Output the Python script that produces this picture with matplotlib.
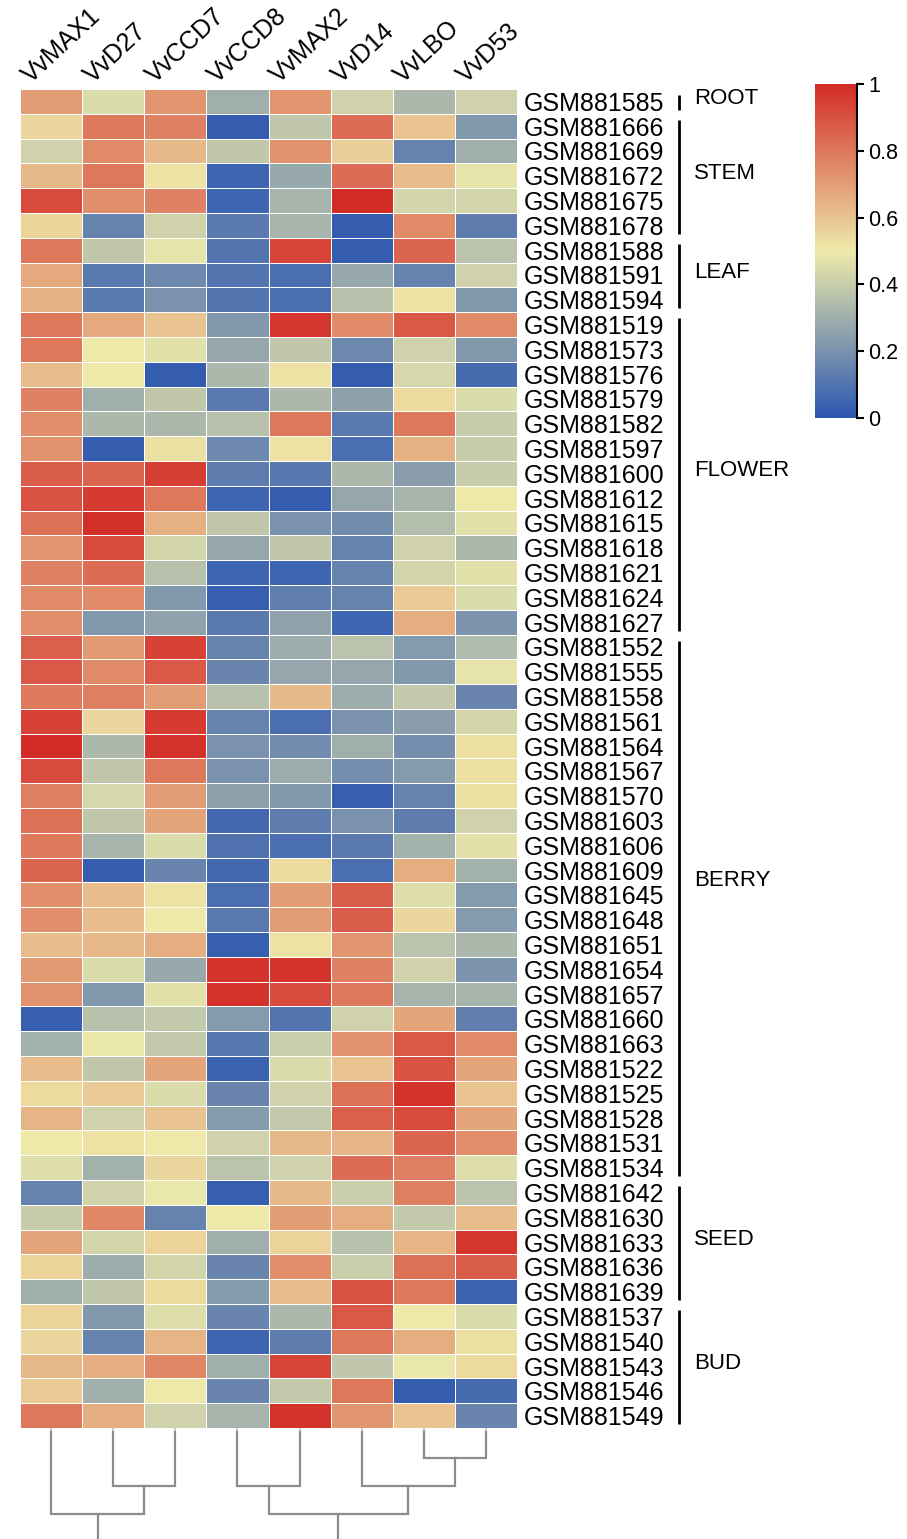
import numpy as np
import matplotlib
matplotlib.use("Agg")
import matplotlib.pyplot as plt
from matplotlib.colors import LinearSegmentedColormap, Normalize
from matplotlib.cm import ScalarMappable
from matplotlib.transforms import blended_transform_factory

plt.rcParams['font.family'] = ['Liberation Sans', 'DejaVu Sans']

genes = ["VvMAX1", "VvD27", "VvCCD7", "VvCCD8", "VvMAX2", "VvD14", "VvLBO", "VvD53"]

samples = ["GSM881585",
           "GSM881666", "GSM881669", "GSM881672", "GSM881675", "GSM881678",
           "GSM881588", "GSM881591", "GSM881594",
           "GSM881519", "GSM881573", "GSM881576", "GSM881579", "GSM881582", "GSM881597",
           "GSM881600", "GSM881612", "GSM881615", "GSM881618", "GSM881621", "GSM881624",
           "GSM881627",
           "GSM881552", "GSM881555", "GSM881558", "GSM881561", "GSM881564", "GSM881567",
           "GSM881570", "GSM881603", "GSM881606", "GSM881609", "GSM881645", "GSM881648",
           "GSM881651", "GSM881654", "GSM881657", "GSM881660", "GSM881663", "GSM881522",
           "GSM881525", "GSM881528", "GSM881531", "GSM881534",
           "GSM881642", "GSM881630", "GSM881633", "GSM881636", "GSM881639",
           "GSM881537", "GSM881540", "GSM881543", "GSM881546", "GSM881549"]

tissues = ["ROOT", "STEM", "LEAF", "FLOWER", "BERRY", "SEED", "BUD"]
tissue_sizes = [1, 5, 3, 13, 22, 5, 5]

# scaled expression (0..1), one list per gene, rows in sample order
max1 = [0.70, 0.55, 0.42, 0.63, 0.92, 0.56, 0.80, 0.67, 0.65, 0.80,
        0.80, 0.62, 0.77, 0.74, 0.73, 0.87, 0.90, 0.82, 0.72, 0.77,
        0.75, 0.74, 0.86, 0.88, 0.79, 0.94, 1.00, 0.92, 0.78, 0.82,
        0.79, 0.85, 0.74, 0.74, 0.62, 0.71, 0.73, 0.03, 0.31, 0.62,
        0.54, 0.64, 0.50, 0.46, 0.15, 0.40, 0.68, 0.56, 0.30, 0.56,
        0.55, 0.63, 0.58, 0.80]
d27 = [0.45, 0.80, 0.75, 0.80, 0.74, 0.15, 0.38, 0.12, 0.12, 0.67,
       0.50, 0.50, 0.30, 0.33, 0.02, 0.85, 0.96, 0.99, 0.92, 0.83,
       0.75, 0.22, 0.71, 0.75, 0.78, 0.55, 0.33, 0.38, 0.44, 0.38,
       0.32, 0.02, 0.62, 0.62, 0.63, 0.45, 0.22, 0.36, 0.49, 0.38,
       0.58, 0.42, 0.52, 0.31, 0.42, 0.76, 0.43, 0.29, 0.38, 0.22,
       0.15, 0.66, 0.30, 0.66]
ccd7 = [0.72, 0.77, 0.63, 0.52, 0.77, 0.42, 0.48, 0.17, 0.20, 0.60,
        0.47, 0.02, 0.38, 0.33, 0.53, 0.95, 0.80, 0.65, 0.43, 0.36,
        0.22, 0.26, 0.94, 0.88, 0.70, 0.96, 0.98, 0.80, 0.70, 0.68,
        0.45, 0.16, 0.52, 0.50, 0.66, 0.28, 0.47, 0.39, 0.39, 0.68,
        0.45, 0.60, 0.50, 0.55, 0.49, 0.15, 0.56, 0.43, 0.54, 0.46,
        0.64, 0.76, 0.50, 0.42]
ccd8 = [0.30, 0.02, 0.38, 0.05, 0.05, 0.12, 0.10, 0.10, 0.10, 0.22,
        0.27, 0.33, 0.12, 0.36, 0.17, 0.13, 0.05, 0.38, 0.27, 0.05,
        0.03, 0.12, 0.15, 0.16, 0.36, 0.15, 0.20, 0.20, 0.25, 0.06,
        0.09, 0.06, 0.08, 0.12, 0.03, 0.98, 0.98, 0.23, 0.11, 0.04,
        0.16, 0.23, 0.42, 0.37, 0.03, 0.50, 0.30, 0.16, 0.23, 0.16,
        0.05, 0.30, 0.16, 0.32]
max2 = [0.72, 0.38, 0.73, 0.28, 0.32, 0.32, 0.93, 0.08, 0.08, 0.97,
        0.38, 0.52, 0.33, 0.80, 0.52, 0.11, 0.02, 0.20, 0.38, 0.05,
        0.14, 0.26, 0.29, 0.27, 0.63, 0.08, 0.18, 0.29, 0.22, 0.13,
        0.08, 0.54, 0.70, 0.70, 0.52, 0.98, 0.92, 0.10, 0.41, 0.45,
        0.42, 0.39, 0.63, 0.42, 0.63, 0.70, 0.56, 0.74, 0.62, 0.33,
        0.13, 0.93, 0.39, 0.98]
d14 = [0.42, 0.83, 0.57, 0.83, 1.00, 0.02, 0.02, 0.28, 0.36, 0.75,
       0.17, 0.02, 0.25, 0.12, 0.08, 0.33, 0.27, 0.18, 0.15, 0.15,
       0.15, 0.05, 0.37, 0.27, 0.29, 0.20, 0.30, 0.19, 0.03, 0.20,
       0.12, 0.08, 0.87, 0.87, 0.72, 0.77, 0.80, 0.42, 0.73, 0.60,
       0.82, 0.86, 0.64, 0.83, 0.41, 0.66, 0.36, 0.41, 0.90, 0.88,
       0.80, 0.38, 0.80, 0.72]
lbo = [0.33, 0.60, 0.15, 0.62, 0.43, 0.75, 0.85, 0.15, 0.52, 0.88,
       0.42, 0.44, 0.54, 0.80, 0.65, 0.24, 0.32, 0.35, 0.42, 0.43,
       0.58, 0.66, 0.23, 0.22, 0.39, 0.24, 0.19, 0.23, 0.15, 0.13,
       0.31, 0.66, 0.46, 0.55, 0.37, 0.42, 0.32, 0.68, 0.88, 0.90,
       0.98, 0.92, 0.85, 0.78, 0.78, 0.39, 0.64, 0.82, 0.80, 0.50,
       0.66, 0.49, 0.02, 0.60]
d53 = [0.42, 0.22, 0.30, 0.48, 0.43, 0.13, 0.37, 0.42, 0.22, 0.75,
       0.22, 0.07, 0.45, 0.40, 0.40, 0.40, 0.50, 0.47, 0.33, 0.47,
       0.45, 0.21, 0.34, 0.48, 0.16, 0.43, 0.53, 0.53, 0.53, 0.42,
       0.47, 0.31, 0.23, 0.23, 0.33, 0.21, 0.32, 0.14, 0.75, 0.68,
       0.60, 0.68, 0.74, 0.46, 0.37, 0.62, 0.97, 0.87, 0.04, 0.45,
       0.53, 0.54, 0.07, 0.16]

# column dendrogram: (left node, right node, height); leaves are 0..7
merges = [(6, 7, 1.08), (1, 2, 2.09), (3, 4, 2.09), (5, 8, 2.09),
          (0, 9, 3.10), (10, 11, 3.10), (12, 13, 4.30)]

W, H = 907, 1539
cmap = LinearSegmentedColormap.from_list("byr", ["#2C57B0", "#EEEAAA", "#D32C27"])
mat = np.column_stack([max1, d27, ccd7, ccd8, max2, d14, lbo, d53])
nrow, ncol = mat.shape

fig = plt.figure(figsize=(W / 100, H / 100), dpi=100)

# heatmap
ax = fig.add_axes([20 / W, 1 - 1428 / H, 497 / W, 1339 / H])
ax.pcolormesh(mat, cmap=cmap, vmin=0, vmax=1, edgecolors="white", linewidth=0.7)
ax.set_xlim(0, ncol); ax.set_ylim(nrow, 0)
for s in ax.spines.values():
    s.set_visible(False)
ax.yaxis.tick_right()
ax.set_yticks(np.arange(nrow) + 0.5, labels=samples, fontsize=18)
ax.tick_params(axis="y", length=0, pad=5)
ax.set_xticks(np.arange(ncol) + 0.5, labels=[])
ax.tick_params(axis="x", length=2.5, width=1.5, color="#cccccc")
for i, g in enumerate(genes):
    ax.text(i + 0.17, -0.2, g, rotation=43, rotation_mode="anchor",
            ha="left", va="baseline", fontsize=18)

# tissue brackets
trans = blended_transform_factory(fig.transFigure, ax.transData)
label_shift = {"BERRY": -1.0}
start = 0
for t, n in zip(tissues, tissue_sizes):
    ax.plot([679 / W, 679 / W], [start + 0.25, start + n - 0.15], transform=trans,
            color="black", lw=2, clip_on=False, solid_capstyle="butt")
    ax.text(694 / W, start + n / 2 - 0.1 + label_shift.get(t, 0.0), t, transform=trans,
            ha="left", va="center", fontsize=16)
    start += n

# dendrogram
dax = fig.add_axes([20 / W, 0, 497 / W, 111 / H])
dax.set_xlim(0, ncol); dax.set_ylim(4.0, 0)
dax.axis("off")
xpos = list(np.arange(ncol) + 0.5)
hgt = [0.15] * ncol
for a, b, h in merges:
    xa, xb = xpos[a], xpos[b]
    dax.plot([xa, xa, xb, xb], [hgt[a], h, h, hgt[b]], color="#8c8c8c", lw=1.6,
             solid_joinstyle="miter")
    xpos.append((xa + xb) / 2)
    hgt.append(h)

# colour key
cax = fig.add_axes([815 / W, 1 - 418 / H, 42 / W, 334 / H])
cb = fig.colorbar(ScalarMappable(norm=Normalize(0, 1), cmap=cmap), cax=cax)
cb.outline.set_visible(False)
cb.set_ticks([0, 0.2, 0.4, 0.6, 0.8, 1.0], labels=["0", "0.2", "0.4", "0.6", "0.8", "1"])
cax.tick_params(length=5, width=1.5, labelsize=15.5, pad=3)
cax.plot([1, 1], [0, 1], transform=cax.transAxes, color="black", lw=1.5, clip_on=False)

fig.savefig("out.png", dpi=100)
